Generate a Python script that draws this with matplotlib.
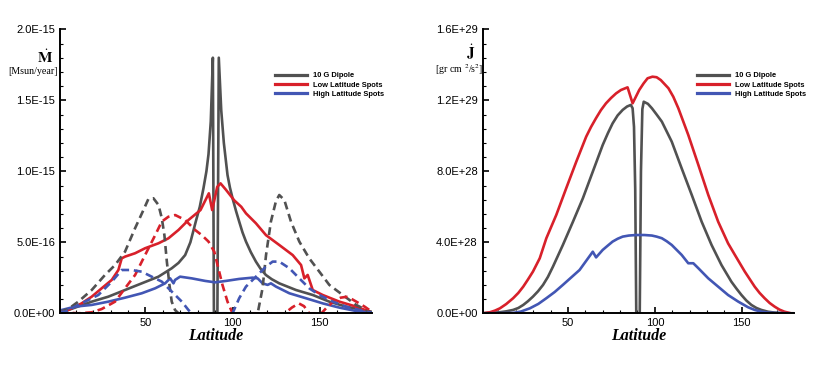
import matplotlib
matplotlib.use("Agg")
import matplotlib.pyplot as plt
from matplotlib.ticker import FixedLocator, FuncFormatter

plt.rcParams["font.family"] = "Liberation Sans"
plt.rcParams["mathtext.fontset"] = "stix"

# ---- left panel: mass loss rate (units of 1e-16 Msun/year) ----
mdot_scale = 1e-16
lat_dip = [1, 5.7, 19.2, 28.7, 38.3, 47.9, 57.5, 65.1, 69, 72.8, 75.8, 78.9, 81.2, 83.3,
           85, 86.2, 87.5, 88.7, 89.3, 91.3, 92.1, 93.5, 95.0, 97.1, 98.5, 100, 102, 103.8,
           105.7, 107.7, 110.5, 113.4, 116, 119.1, 122.5, 126.8, 136.4, 146, 155.5, 165.1,
           174.7, 180]
mdot_dip = [0.15, 0.23, 0.82, 1.17, 1.64, 2.11, 2.58, 3.17, 3.55, 4.1, 5.0, 6.46, 7.5, 8.8,
            10.0, 11.2, 13.5, 18, 0, 0, 18, 14.3, 12, 9.74, 8.85, 8.1, 7.2, 6.46,
            5.7, 5.05, 4.3, 3.64, 3.15, 2.7, 2.4, 2.11, 1.64, 1.29, 0.82, 0.47,
            0.23, 0.1]

lat_dip_d = [1, 5.7, 11.5, 19.2, 26.8, 32.6, 38.3, 44.1, 48.9, 51.7, 54.6, 57.5, 59.4, 60.9,
             62.3, 63.8, 65.1, 67, 69, 114.4, 117.2, 119.2, 122.0, 124.9, 126.8, 129.7,
             133.5, 138.3, 144, 149.8, 155.5, 163.2, 170.9, 178.5, 180]
mdot_dip_d = [0.1, 0.3, 0.82, 1.64, 2.7, 3.4, 4.34, 6.0, 7.28, 8.05, 8.1, 7.63, 6.7, 5.5,
              3.64, 2.0, 0.82, 0.23, 0, 0, 1.76, 4.1, 6.46, 7.9, 8.33, 7.98,
              6.46, 5.05, 3.87, 2.93, 2.0, 1.29, 0.59, 0.12, 0.05]

lat_low = [1, 5.7, 13.4, 19.2, 24.9, 30.7, 34.5, 36.4, 38.3, 44.1, 49.8, 57.5, 63.2, 69,
           74.7, 81.6, 86.4, 88.3, 91.2, 93.1, 96.2, 101, 105, 107.7, 113.4, 119.2, 126.8,
           134.5, 139.3, 141.2, 143.1, 146, 151.7, 161.3, 170.9, 178.5, 180]
mdot_low = [0.15, 0.23, 0.7, 1.17, 1.76, 2.35, 3.05, 3.87, 3.99, 4.23, 4.58, 4.93, 5.28, 5.87,
            6.57, 7.27, 8.45, 7.27, 8.9, 9.15, 8.7, 7.95, 7.5, 7.04, 6.34, 5.5, 4.81,
            4.1, 3.4, 2.46, 2.7, 1.64, 1.29, 0.82, 0.47, 0.12, 0.05]

lat_low_d = [1, 5, 11.5, 19.2, 24.9, 32.6, 38.3, 44.1, 49.8, 55.6, 59.4, 63.2, 67.1, 72.8,
             78.5, 82.4, 86.2, 89.5, 91.4, 94.2, 97.1, 100, 130, 134, 138, 141, 144, 151,
             154, 158, 162, 166, 171, 176, 180]
mdot_low_d = [0.1, 0.05, 0, 0.07, 0.3, 0.82, 1.76, 2.7, 4.1, 5.5, 6.46, 6.8, 6.92, 6.57,
              5.87, 5.5, 5.05, 4.34, 3.4, 2.0, 0.82, 0, 0, 0.4, 0.7, 0.5, 0, 0,
              0.4, 0.85, 1.1, 1.17, 0.82, 0.45, 0.1]

lat_high = [1, 1.9, 9.6, 19.2, 28.7, 38.3, 47.9, 55.6, 61.3, 64.2, 66.1, 67, 69.9, 76.6,
            84.3, 90, 96.2, 103.8, 111.5, 114.4, 117.2, 120.1, 122, 124.9, 132.6, 142.1,
            151.7, 161.3, 170.9, 178.5, 180]
mdot_high = [0.2, 0.23, 0.47, 0.59, 0.82, 1.1, 1.41, 1.76, 2.11, 2.46, 2.11, 2.35, 2.58, 2.46,
             2.28, 2.18, 2.28, 2.42, 2.51, 2.46, 2.11, 2.0, 2.11, 1.88, 1.41, 1.06,
             0.7, 0.4, 0.16, 0.07, 0.05]

lat_high_d = [1, 4, 7.7, 15.3, 23, 30.7, 36.4, 42.1, 47.9, 53.6, 59.4, 65.1, 70.9, 74.7,
              76.6, 100, 103.8, 107.7, 113.4, 119.2, 123, 126.8, 132.6, 138.3, 144, 149.8,
              157.5, 165.1, 172.8, 178.5, 180]
mdot_high_d = [0.1, 0.12, 0.35, 0.82, 1.29, 2.23, 3.05, 3.05, 2.93, 2.58, 2.23, 1.53, 0.82, 0.23,
               0, 0, 1.06, 1.88, 2.58, 3.29, 3.64, 3.64, 3.17, 2.46, 1.76, 1.29,
               0.82, 0.47, 0.23, 0.07, 0.05]

# ---- right panel: angular momentum loss (units of 1e28) ----
jdot_scale = 1e28
latj_dip = [1, 10.9, 14.5, 18.5, 21.5, 24.3, 27, 29.9, 32.8, 35.7, 38.5, 41.4, 47.1, 52.9,
            58.6, 64.3, 70, 73, 75.7, 78.6, 81.5, 84, 86.2, 87.2, 88.0, 88.7, 89.3, 91.3,
            92.0, 92.8, 93.6, 96, 98.3, 101, 104, 109.7, 115.4, 121.2, 126.9, 132.6, 138.3,
            144, 147, 149.8, 152.6, 155.5, 158.4, 161.2, 165, 168.8, 173, 178.3, 180]
jdot_dip = [0, 0.06, 0.11, 0.19, 0.3, 0.47, 0.68, 0.94, 1.24, 1.6, 2.05, 2.63, 3.85, 5.16,
            6.48, 7.98, 9.48, 10.15, 10.7, 11.15, 11.46, 11.65, 11.74, 11.55, 10.5, 7, 0, 0,
            8, 11.5, 11.92, 11.8, 11.55, 11.2, 10.8, 9.67, 8.17, 6.67, 5.16, 3.85, 2.72,
            1.78, 1.38, 1.03, 0.72, 0.47, 0.3, 0.19, 0.09, 0.04, 0.01, 0, 0]

latj_low = [1, 5.2, 8, 10.9, 14.5, 18.5, 21.5, 24.3, 27, 29.9, 33.8, 37.6, 43.3, 49, 54.8,
            60.5, 63.3, 66.2, 69, 71.9, 74.8, 77.7, 80.5, 84.3, 87.2, 91, 93.5, 95.8, 98.6,
            101, 103.4, 107.8, 110.6, 113.5, 119.2, 125, 130.7, 136.4, 142.1, 146, 151.7,
            157.4, 160.2, 163.1, 166, 168.8, 171.6, 174.5, 178.3, 180]
jdot_low = [0, 0.06, 0.15, 0.28, 0.52, 0.85, 1.15, 1.5, 1.9, 2.35, 3.1, 4.23, 5.54, 7.04, 8.54,
            9.95, 10.5, 11.0, 11.45, 11.83, 12.13, 12.39, 12.58, 12.73, 11.83, 12.58, 12.95,
            13.24, 13.33, 13.3, 13.14, 12.68, 12.2, 11.55, 10.05, 8.36, 6.67, 5.16, 3.94, 3.29,
            2.35, 1.5, 1.15, 0.85, 0.58, 0.38, 0.21, 0.09, 0, 0]

latj_high = [1, 18.5, 23, 28.1, 33, 37.6, 42.4, 47.1, 56.7, 64.3, 66.2, 70, 73, 75.7, 78.6,
             81.5, 85, 89.1, 94, 98.3, 101, 104, 106.8, 109.7, 115.4, 119.2, 122.1, 125,
             130.7, 136.4, 142.1, 147.9, 153.6, 157.4, 161.2, 165, 168.8, 178.3, 180]
jdot_high = [0, 0.02, 0.1, 0.28, 0.53, 0.85, 1.2, 1.6, 2.44, 3.47, 3.15, 3.57, 3.82, 4.04,
             4.2, 4.32, 4.38, 4.41, 4.41, 4.38, 4.32, 4.23, 4.06, 3.85, 3.29, 2.82, 2.82, 2.54,
             1.97, 1.5, 1.03, 0.66, 0.34, 0.19, 0.09, 0.04, 0.02, 0, 0]

labels = ["10 G Dipole", "Low Latitude Spots", "High Latitude Spots"]
c_gray, c_red, c_blue = "#515151", "#d8202a", "#4256b4"
lw = 1.9
dash = (3.0, 1.8)

fig = plt.figure(figsize=(8.3, 3.7), dpi=100)
ax1 = fig.add_axes([60 / 830, 1 - 313.3 / 370, 312 / 830, 284 / 370])
ax2 = fig.add_axes([482.7 / 830, 1 - 313.3 / 370, 311.3 / 830, 284 / 370])

ax1.plot(lat_dip, [v * mdot_scale for v in mdot_dip], color=c_gray, lw=lw, label=labels[0])
ax1.plot(lat_low, [v * mdot_scale for v in mdot_low], color=c_red, lw=lw, label=labels[1])
ax1.plot(lat_high, [v * mdot_scale for v in mdot_high], color=c_blue, lw=lw, label=labels[2])
ax1.plot(lat_dip_d, [v * mdot_scale for v in mdot_dip_d], color=c_gray, lw=lw, dashes=dash)
ax1.plot(lat_low_d, [v * mdot_scale for v in mdot_low_d], color=c_red, lw=lw, dashes=dash)
ax1.plot(lat_high_d, [v * mdot_scale for v in mdot_high_d], color=c_blue, lw=lw, dashes=dash)

ax2.plot(latj_dip, [v * jdot_scale for v in jdot_dip], color=c_gray, lw=lw, label=labels[0])
ax2.plot(latj_low, [v * jdot_scale for v in jdot_low], color=c_red, lw=lw, label=labels[1])
ax2.plot(latj_high, [v * jdot_scale for v in jdot_high], color=c_blue, lw=lw, label=labels[2])

sci = FuncFormatter(lambda v, p: "{:.1E}".format(v))
x_major = [50, 100, 150]
x_minor = [10, 20, 30, 40, 60, 70, 80, 90, 110, 120, 130, 140, 160, 170]
panels = [(ax1, 2e-15, 5e-16, 1e-16), (ax2, 1.6e29, 4e28, 8e27)]
for ax, ymax, ymaj, ymin in panels:
    ax.set_xlim(1, 180)
    ax.set_ylim(0, ymax)
    ax.xaxis.set_major_locator(FixedLocator(x_major))
    ax.xaxis.set_minor_locator(FixedLocator(x_minor))
    ax.yaxis.set_major_locator(FixedLocator([i * ymaj for i in range(5)]))
    ax.yaxis.set_minor_locator(FixedLocator([i * ymin for i in range(1, 20)
                                             if i * ymin < ymax * 0.999]))
    ax.yaxis.set_major_formatter(sci)
    for s in ["top", "right"]:
        ax.spines[s].set_visible(False)
    for s in ["left", "bottom"]:
        ax.spines[s].set_linewidth(1.4)
    ax.tick_params(which="major", direction="in", length=4, width=1.2, pad=3.5,
                   labelsize=8)
    ax.tick_params(which="minor", direction="in", length=2.5, width=0.8)
    ax.set_xlabel("Latitude", family="Liberation Serif", fontsize=11.5,
                  fontweight="bold", style="italic", labelpad=0)
    leg = ax.legend(loc="center left", bbox_to_anchor=(0.69, 0.804), frameon=False,
                    borderpad=0, borderaxespad=0, handlelength=4.2, handletextpad=0.8,
                    labelspacing=0.25, prop={"size": 5.4, "weight": "bold"})
    for h in leg.get_lines():
        h.set_linewidth(2.3)

fig.text(45 / 830, 1 - 57 / 370, r"$\dot{\mathbf{M}}$", fontsize=11, ha="center", va="center")
fig.text(33 / 830, 1 - 71 / 370, "[Msun/year]", family="Liberation Serif", fontsize=7.2,
         ha="center", va="center")
fig.text(471 / 830, 1 - 52 / 370, r"$\dot{\mathbf{J}}$", fontsize=11, ha="center", va="center")
fig.text(459 / 830, 1 - 70 / 370, r"[gr cm $^{2}$/s$^{2}$]", family="Liberation Serif",
         fontsize=7.2, ha="center", va="center")

fig.savefig("out.png", dpi=100)
